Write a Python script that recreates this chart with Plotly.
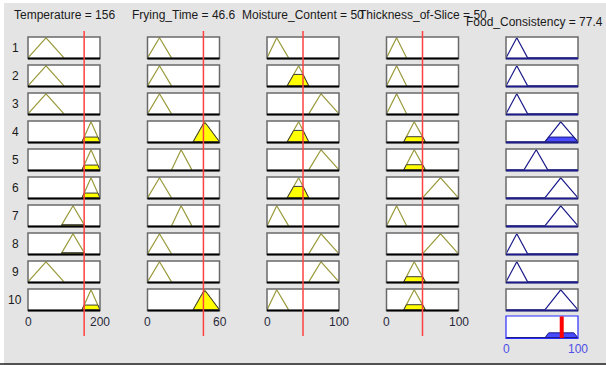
import plotly.graph_objects as go

W, H = 606, 365

# ---------------- data ----------------
input_names = ["Temperature", "Frying_Time", "Moisture_Content", "Thickness_of-Slice"]
input_ranges = [200, 60, 100, 100]
input_values = [156, 46.6, 50, 50]
output_name = "Food_Consistency"
output_range = 100
output_value = 77.4
rule_labels = ["1", "2", "3", "4", "5", "6", "7", "8", "9", "10"]

# triangular membership functions [a, b, c]: low, mid, high
temperature_mfs = [[0, 50, 100], [92, 125, 158], [150, 175, 200]]
frying_time_mfs = [[0, 10, 20], [20, 28, 37], [38, 47.5, 60]]
moisture_mfs = [[0, 13.5, 30], [28, 44, 58], [58, 75, 100]]
thickness_mfs = [[0, 14, 28], [24, 38.5, 54], [50, 75, 100]]
consistency_mfs = [[0, 15, 30], [25, 42, 58], [54, 76, 100]]

# rule base (MF index per variable for each of the 10 rules)
rule_temperature = [0, 0, 0, 2, 2, 2, 1, 1, 0, 2]
rule_frying_time = [0, 0, 0, 2, 1, 0, 1, 0, 0, 2]
rule_moisture = [0, 1, 2, 1, 2, 1, 0, 2, 2, 0]
rule_thickness = [0, 0, 0, 1, 1, 2, 0, 2, 1, 1]
rule_consistency = [0, 0, 0, 2, 1, 2, 2, 0, 0, 2]

input_mfs = [temperature_mfs, frying_time_mfs, moisture_mfs, thickness_mfs]
input_rules = [rule_temperature, rule_frying_time, rule_moisture, rule_thickness]

# ---------------- styles ----------------
BG = "#e4e4e4"
MF_IN = "#9a9a3c"
MF_OUT = "#1c1c8a"
FILL_IN = "#ffff00"
FILL_OUT = "#4a4aff"
RED = "#ff4040"
FONT = "Arial"
TXT = "#1a1a1a"

col_left = [28, 147.5, 267, 386.5, 506]
box_w = 72
row_top0, row_pitch, box_h = 37, 28, 21.5
agg_top, agg_bot = 316, 338.5


def tri(x, p):
    a, b, c = p
    if x <= a or x >= c:
        return 0.0
    if x <= b:
        return (x - a) / (b - a) if b > a else 1.0
    return (c - x) / (c - b) if c > b else 1.0


def clipped(p, lvl):
    a, b, c = p
    return [a, a + lvl * (b - a), c - lvl * (c - b), c, a], [0, lvl, lvl, 0, 0]


fig = go.Figure()
layout = dict(
    width=W, height=H, margin=dict(l=0, r=0, t=0, b=0),
    paper_bgcolor=BG, plot_bgcolor="white", showlegend=False, hovermode=False,
)
shapes = []
annotations = []


def add_axes(n, left, top, bottom, xmax):
    xk = "xaxis" if n == 1 else f"xaxis{n}"
    yk = "yaxis" if n == 1 else f"yaxis{n}"
    layout[xk] = dict(domain=[left / W, (left + box_w) / W], range=[0, xmax],
                      visible=False, fixedrange=True, anchor=f"y{n}" if n > 1 else "y")
    layout[yk] = dict(domain=[1 - bottom / H, 1 - top / H], range=[-0.03, 1.04],
                      visible=False, fixedrange=True, anchor=f"x{n}" if n > 1 else "x")


def ax(n):
    return ("x", "y") if n == 1 else (f"x{n}", f"y{n}")


firing = []
for r in range(10):
    levels = [tri(input_values[c], input_mfs[c][input_rules[c][r]]) for c in range(4)]
    firing.append(min(levels))

for r in range(10):
    top = row_top0 + r * row_pitch
    bot = top + box_h
    for c in range(5):
        n = r * 5 + c + 1
        xmax = input_ranges[c] if c < 4 else output_range
        add_axes(n, col_left[c], top, bot, xmax)
        xa, ya = ax(n)
        if c < 4:
            p = input_mfs[c][input_rules[c][r]]
            fig.add_trace(go.Scatter(x=p, y=[0, 1, 0], mode="lines", xaxis=xa, yaxis=ya,
                                     line=dict(color=MF_IN, width=1.2)))
            lvl = tri(input_values[c], p)
            if lvl > 0:
                xs, ys = clipped(p, lvl)
                fig.add_trace(go.Scatter(x=xs, y=ys, mode="lines", fill="toself",
                                         fillcolor=FILL_IN, xaxis=xa, yaxis=ya,
                                         line=dict(color="#3a3a3a", width=1)))
            bottom_col = "black"
        else:
            p = consistency_mfs[rule_consistency[r]]
            lvl = firing[r]
            if lvl > 0:
                xs, ys = clipped(p, lvl)
                fig.add_trace(go.Scatter(x=xs, y=ys, mode="lines", fill="toself",
                                         fillcolor=FILL_OUT, xaxis=xa, yaxis=ya,
                                         line=dict(color=MF_OUT, width=1)))
            fig.add_trace(go.Scatter(x=[0] + p + [output_range], y=[0, 0, 1, 0, 0],
                                     mode="lines", xaxis=xa, yaxis=ya,
                                     line=dict(color=MF_OUT, width=1.2)))
            bottom_col = MF_OUT
        shapes.append(dict(type="rect", xref=f"{xa} domain", yref=f"{ya} domain",
                           x0=0, x1=1, y0=0, y1=1, line=dict(color="#6a6a6a", width=1.5),
                           layer="above"))
        shapes.append(dict(type="line", xref=f"{xa} domain", yref=f"{ya} domain",
                           x0=0, x1=1, y0=0, y1=0, line=dict(color=bottom_col, width=2),
                           layer="above"))
    annotations.append(dict(text=rule_labels[r], x=15 / W, y=1 - (top + box_h / 2) / H,
                            xref="paper", yref="paper", showarrow=False, xanchor="center",
                            yanchor="middle", font=dict(family=FONT, size=12, color=TXT)))

# aggregate output axes
n_agg = 51
add_axes(n_agg, col_left[4], agg_top, agg_bot, output_range)
xa, ya = ax(n_agg)
agg_r = max(range(10), key=lambda i: firing[i])
xs, ys = clipped(consistency_mfs[rule_consistency[agg_r]], firing[agg_r])
fig.add_trace(go.Scatter(x=xs, y=ys, mode="lines", fill="toself", fillcolor=FILL_OUT,
                         xaxis=xa, yaxis=ya, line=dict(color=MF_OUT, width=1)))
fig.add_trace(go.Scatter(x=[0, output_range], y=[0, 0], mode="lines", xaxis=xa, yaxis=ya,
                         line=dict(color=MF_OUT, width=1.5)))
shapes.append(dict(type="rect", xref=f"{xa} domain", yref=f"{ya} domain", x0=0, x1=1,
                   y0=0, y1=1, line=dict(color="#2a2aff", width=1.2), layer="above"))
shapes.append(dict(type="line", xref=xa, yref=f"{ya} domain", x0=output_value,
                   x1=output_value, y0=0.02, y1=0.98, line=dict(color="#ff0000", width=4),
                   layer="above"))

# red input lines
for c in range(4):
    xa, _ = ax(c + 1)
    shapes.append(dict(type="line", xref=xa, yref="paper", x0=input_values[c],
                       x1=input_values[c], y0=1 - 31 / H, y1=1 - 336 / H,
                       line=dict(color=RED, width=1.5), layer="above"))

# titles
for c in range(4):
    xa, _ = ax(c + 1)
    v = input_values[c]
    vs = f"{v:g}"
    annotations.append(dict(text=f"{input_names[c]} = {vs}", xref=f"{xa} domain", x=0.5,
                            yref="paper", y=1 - 15 / H, showarrow=False, xanchor="center",
                            yanchor="middle", font=dict(family=FONT, size=12, color=TXT)))
annotations.append(dict(text=f"{output_name} = {output_value:g}", xref="paper", x=605 / W,
                        yref="paper", y=1 - 22 / H, showarrow=False, xanchor="right",
                        yanchor="middle", font=dict(family=FONT, size=12, color=TXT)))

# tick labels
for c in range(4):
    xa, _ = ax(46 + c)
    for pos, t in [(0, "0"), (1, f"{input_ranges[c]}")]:
        annotations.append(dict(text=t, xref=f"{xa} domain", x=pos, yref="paper",
                                y=1 - 322 / H, showarrow=False, xanchor="center",
                                yanchor="middle",
                                font=dict(family=FONT, size=12, color="#2a2a3a")))
xa, _ = ax(n_agg)
for pos, t in [(0, "0"), (1, f"{output_range}")]:
    annotations.append(dict(text=t, xref=f"{xa} domain", x=pos, yref="paper",
                            y=1 - 349 / H, showarrow=False, xanchor="center",
                            yanchor="middle", font=dict(family=FONT, size=12, color="#4f4fe6")))

# window frame decoration
shapes.append(dict(type="rect", xref="paper", yref="paper", x0=0, x1=1, y0=1 - 3 / H, y1=1,
                   fillcolor="white", line=dict(width=0), layer="below"))
shapes.append(dict(type="rect", xref="paper", yref="paper", x0=0, x1=4 / W, y0=0, y1=1,
                   fillcolor="white", line=dict(width=0), layer="below"))
shapes.append(dict(type="line", xref="paper", yref="paper", x0=0, x1=1, y0=1 - 364 / H,
                   y1=1 - 364 / H, line=dict(color="#202020", width=1.5), layer="above"))

layout["shapes"] = shapes
layout["annotations"] = annotations
fig.update_layout(**layout)
fig.write_html("out.html", config={"displayModeBar": False, "staticPlot": True},
               post_script="document.body.style.margin='0px';"
                           "document.body.style.overflow='hidden';")
